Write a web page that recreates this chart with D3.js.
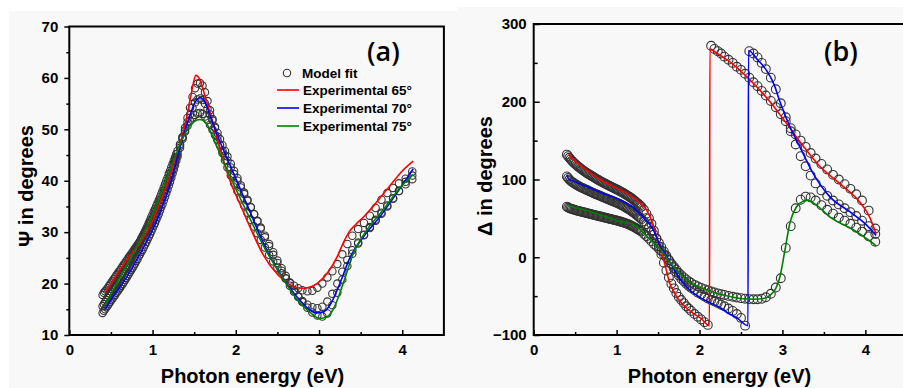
<!DOCTYPE html>
<html lang="en">
<head>
<meta charset="UTF-8">
<title>psi and delta fits</title>
<script src="https://cdn.jsdelivr.net/npm/d3@7/dist/d3.min.js"></script>
<style>
	body { margin: 0; background: #fff; }
	svg text { font-family: "Liberation Sans", Arial, sans-serif; font-weight: bold; fill: #000; }
</style>
</head>
<body>
<div id="chart"></div>
<script>
// photon energies of the model fit points (eV), denser in the infrared
let fitE = [
	0.400, 0.415, 0.430, 0.445, 0.460, 0.475, 0.490, 0.505, 0.520, 0.535,
	0.550, 0.565, 0.580, 0.595, 0.610, 0.625, 0.640, 0.655, 0.670, 0.685,
	0.700, 0.715, 0.730, 0.745, 0.760, 0.775, 0.790, 0.805, 0.820, 0.835,
	0.850, 0.865, 0.880, 0.895, 0.910, 0.925, 0.940, 0.955, 0.970, 0.985,
	1.000, 1.015, 1.030, 1.045, 1.060, 1.075, 1.090, 1.105, 1.120, 1.135,
	1.150, 1.165, 1.180, 1.195, 1.210, 1.225, 1.240, 1.255, 1.270, 1.285,
	1.30, 1.33, 1.36, 1.39, 1.42, 1.45, 1.48, 1.51, 1.54, 1.57,
	1.60, 1.63, 1.66, 1.69, 1.72, 1.75, 1.78, 1.81, 1.84, 1.87,
	1.90, 1.94, 1.98, 2.02, 2.06, 2.10, 2.14, 2.18, 2.22, 2.26,
	2.30, 2.35, 2.40, 2.45, 2.50, 2.55, 2.60, 2.65, 2.70, 2.75,
	2.80, 2.86, 2.92, 2.98, 3.04, 3.10, 3.16, 3.22, 3.28, 3.34,
	3.40, 3.47, 3.54, 3.61, 3.68, 3.75, 3.82, 3.89, 3.96, 4.04, 4.12
];

// model fit, Psi (deg)
let psiFit65 = [
	17.8, 18.2, 18.5, 18.8, 19.1, 19.5, 19.8, 20.2, 20.5, 20.9,
	21.2, 21.6, 21.9, 22.3, 22.6, 23.0, 23.3, 23.7, 24.0, 24.4,
	24.7, 25.1, 25.4, 25.8, 26.1, 26.5, 26.8, 27.2, 27.5, 27.9,
	28.3, 28.7, 29.1, 29.5, 29.9, 30.3, 30.7, 31.2, 31.6, 32.1,
	32.6, 33.1, 33.6, 34.2, 34.7, 35.3, 35.8, 36.4, 37.0, 37.6,
	38.2, 38.9, 39.5, 40.2, 40.8, 41.5, 42.2, 43.0, 43.7, 44.5,
	45.2, 46.8, 48.5, 50.3, 52.2, 54.2, 56.3, 58.0, 58.9, 59.0,
	58.5, 57.2, 55.5, 53.7, 52.0, 50.3, 48.6, 47.0, 45.4, 44.0,
	42.6, 41.0, 39.5, 38.0, 36.6, 35.2, 33.8, 32.4, 31.1, 29.8,
	28.5, 27.0, 25.6, 24.3, 23.1, 22.0, 21.0, 20.2, 19.6, 19.1,
	18.7, 18.5, 18.6, 19.2, 20.0, 21.2, 22.4, 23.8, 25.7, 27.7,
	29.3, 30.6, 31.8, 33.2, 34.7, 36.3, 37.6, 38.6, 39.5, 40.4, 41.0
];
let psiFit70 = [
	14.3, 14.7, 15.0, 15.4, 15.7, 16.1, 16.4, 16.8, 17.1, 17.5,
	17.8, 18.2, 18.5, 18.9, 19.2, 19.6, 19.9, 20.3, 20.7, 21.1,
	21.5, 21.9, 22.3, 22.7, 23.1, 23.5, 23.9, 24.4, 24.8, 25.3,
	25.7, 26.2, 26.6, 27.1, 27.6, 28.1, 28.6, 29.1, 29.6, 30.2,
	30.7, 31.3, 31.8, 32.4, 33.0, 33.6, 34.2, 34.9, 35.5, 36.2,
	36.9, 37.6, 38.3, 39.1, 39.8, 40.6, 41.4, 42.2, 43.0, 43.9,
	44.7, 46.4, 48.1, 49.8, 51.4, 52.9, 54.2, 55.2, 55.8, 56.0,
	55.7, 55.0, 54.0, 52.9, 51.7, 50.5, 49.3, 48.1, 46.9, 45.8,
	44.7, 43.3, 41.9, 40.5, 39.1, 37.7, 36.3, 34.9, 33.5, 32.1,
	30.7, 29.0, 27.3, 25.6, 24.0, 22.5, 21.0, 19.6, 18.4, 17.4,
	16.6, 15.9, 15.4, 15.2, 15.5, 16.5, 18.0, 20.0, 22.3, 24.6,
	26.5, 28.0, 29.4, 30.8, 32.2, 33.6, 35.0, 36.5, 38.0, 39.8, 41.8
];
let psiFit75 = [
	15.6, 16.0, 16.4, 16.8, 17.2, 17.6, 18.0, 18.4, 18.8, 19.2,
	19.6, 20.0, 20.4, 20.8, 21.2, 21.6, 22.0, 22.4, 22.8, 23.2,
	23.6, 24.1, 24.5, 25.0, 25.4, 25.9, 26.3, 26.8, 27.2, 27.7,
	28.2, 28.7, 29.2, 29.7, 30.2, 30.7, 31.2, 31.8, 32.3, 32.9,
	33.4, 34.0, 34.5, 35.1, 35.6, 36.2, 36.8, 37.4, 38.0, 38.7,
	39.3, 40.0, 40.6, 41.3, 41.9, 42.6, 43.2, 43.9, 44.5, 45.2,
	45.8, 47.1, 48.4, 49.6, 50.7, 51.6, 52.3, 52.8, 53.1, 53.2,
	53.0, 52.5, 51.8, 50.9, 49.9, 48.9, 47.9, 46.9, 45.9, 44.9,
	43.9, 42.6, 41.3, 40.0, 38.7, 37.4, 36.1, 34.8, 33.5, 32.2,
	30.9, 29.3, 27.7, 26.1, 24.5, 23.0, 21.5, 20.1, 18.7, 17.5,
	16.4, 15.3, 14.4, 13.8, 13.6, 14.2, 15.8, 18.2, 20.8, 23.4,
	25.8, 27.8, 29.5, 31.0, 32.4, 33.8, 35.2, 36.6, 38.0, 39.3, 40.3
];

// model fit, Delta (deg)
let delFit65 = [
	132, 130, 128, 126, 124, 122.5, 121, 119.5, 118, 116.8,
	115.5, 114.3, 113, 111.8, 110.5, 109.5, 108.5, 107.5, 106.5, 105.5,
	104.5, 103.5, 102.5, 101.5, 100.5, 99.6, 98.7, 97.8, 97, 96.2,
	95.3, 94.5, 93.6, 92.8, 92, 91.2, 90.4, 89.6, 88.8, 88,
	87.2, 86.4, 85.5, 84.7, 83.8, 82.9, 82, 81, 80, 79,
	78, 76.9, 75.8, 74.6, 73.3, 71.9, 70.5, 69.3, 68, 66.5,
	65, 61, 56, 50, 43, 34, 24, 14, 4, -7,
	-17, -26, -34, -40, -46, -51, -55, -59, -63, -66,
	-69, -73, -76.5, -80, -83.5, -87, 272, 268, 265, 262,
	258, 254, 250, 245, 241, 236, 231, 225, 220, 214,
	208, 201, 193, 184, 175, 166, 158, 150, 142, 134,
	127, 120, 113, 106, 100, 94, 88, 81, 73, 60, 37
];
let delFit70 = [
	104, 102, 100, 98.5, 97, 96, 95, 94, 93, 92,
	91, 90.2, 89.5, 88.8, 88, 87.2, 86.5, 85.8, 85, 84.2,
	83.5, 82.8, 82, 81.3, 80.7, 80, 79.4, 78.7, 78, 77.3,
	76.7, 76, 75.4, 74.7, 74, 73.3, 72.7, 72, 71.3, 70.6,
	70, 69.3, 68.5, 67.8, 67, 66.2, 65.3, 64.4, 63.5, 62.5,
	61.5, 60.4, 59.3, 58.2, 57, 55.8, 54.5, 53.2, 51.8, 50.4,
	49, 46, 42.5, 38.5, 34, 29, 24, 18.5, 13, 7.5,
	2, -3.5, -9, -14, -19, -23.5, -27.5, -31, -34, -37,
	-39.5, -42.5, -45.5, -48, -50.5, -53, -55, -57, -59, -61,
	-63, -66, -69, -73, -78, -88, 265, 262, 257, 250,
	242, 231, 216, 198, 180, 162, 145, 130, 117, 105,
	95, 86, 79, 73, 68, 63, 58, 53, 47, 40, 30
];
let delFit75 = [
	65, 64, 63, 62.5, 62, 61.5, 61, 60.5, 60, 59.6,
	59.2, 58.8, 58.4, 58, 57.6, 57.2, 56.8, 56.4, 56, 55.6,
	55.2, 54.8, 54.4, 54, 53.6, 53.2, 52.8, 52.4, 52, 51.6,
	51.2, 50.8, 50.4, 50, 49.6, 49.2, 48.8, 48.4, 48, 47.6,
	47.2, 46.8, 46.3, 45.9, 45.4, 44.9, 44.4, 43.9, 43.3, 42.7,
	42, 41.3, 40.5, 39.7, 38.8, 37.9, 37, 36, 35, 34,
	33, 30, 27, 24, 20.5, 17, 14, 11, 8, 4,
	0, -4, -8, -12, -16, -20, -23, -26, -28.5, -31,
	-33, -35.5, -37.5, -39.5, -41, -42.5, -44, -45.2, -46.4, -47.5,
	-48.5, -49.7, -50.8, -51.8, -52.6, -53.3, -53.8, -54, -54, -53.3,
	-51.5, -47, -39, -27, 12, 40, 63, 74, 78, 77,
	73, 67, 61, 56, 51, 47, 43, 38, 33, 27, 20
];

// experimental curves [eV, deg]
let psiExp65 = [[0.43,18.3],[0.50,19.9],[0.57,21.8],[0.70,24.8],[0.85,27.9],[0.97,31.2],[1.10,36.2],[1.20,40.5],[1.30,45.5],[1.40,51.5],[1.46,56.5],[1.52,60.5],[1.57,59.6],[1.63,56.5],[1.74,50.5],[1.85,44.0],[1.95,39.2],[2.05,35.5],[2.17,31.0],[2.33,25.6],[2.50,21.8],[2.65,19.8],[2.80,19.1],[2.92,19.5],[3.02,20.6],[3.12,22.5],[3.22,25.3],[3.30,28.2],[3.36,30.0],[3.44,31.5],[3.55,33.2],[3.69,35.8],[3.85,39.0],[4.00,41.9],[4.13,43.8]];
let psiExp70 = [[0.43,15.0],[0.55,18.0],[0.69,21.3],[0.89,27.0],[1.09,33.7],[1.21,39.3],[1.33,46.5],[1.45,52.8],[1.52,55.5],[1.57,56.2],[1.63,55.3],[1.70,52.3],[1.79,48.4],[1.95,42.3],[2.17,34.0],[2.37,26.5],[2.53,22.0],[2.73,17.5],[2.88,15.0],[2.97,14.3],[3.05,14.5],[3.13,15.8],[3.25,20.0],[3.37,25.0],[3.53,29.0],[3.73,33.0],[3.93,37.5],[4.13,42.3]];
let psiExp75 = [[0.43,15.8],[0.50,18.0],[0.69,23.5],[0.89,29.6],[1.09,37.0],[1.25,43.8],[1.40,49.5],[1.50,51.5],[1.57,51.9],[1.64,51.3],[1.75,47.5],[1.89,42.3],[2.13,34.0],[2.35,26.8],[2.53,22.0],[2.73,17.0],[2.90,14.3],[3.01,13.2],[3.10,13.6],[3.17,15.0],[3.29,20.0],[3.41,25.8],[3.57,30.3],[3.77,34.3],[3.97,38.6],[4.13,41.2]];

let delExp65 = [[0.42,132],[0.50,124],[0.64,112],[0.80,100],[1.04,87],[1.20,77],[1.28,70],[1.36,61],[1.44,42],[1.48,27],[1.53,12],[1.58,-8],[1.64,-33],[1.70,-46],[1.76,-56],[1.84,-65],[1.92,-72],[2.02,-79],[2.12,-88],[2.125,268],[2.20,263],[2.37,251],[2.61,228],[2.85,200],[3.05,172],[3.25,143],[3.45,117],[3.69,95],[3.94,70],[4.05,52],[4.13,30]];
let delExp70 = [[0.40,106],[0.42,101],[0.50,97],[0.64,91],[0.84,82],[1.04,74],[1.20,64],[1.28,56],[1.36,47],[1.44,36],[1.53,13],[1.60,2],[1.68,-13],[1.77,-29],[1.90,-44],[2.01,-52],[2.12,-58],[2.25,-65],[2.33,-71],[2.45,-78],[2.585,-88],[2.59,266],[2.70,254],[2.81,240],[2.90,222],[2.97,200],[3.09,168],[3.21,142],[3.37,108],[3.57,78],[3.82,58],[4.00,43],[4.13,28]];
let delExp75 = [[0.42,67],[0.50,64],[0.64,60],[0.84,53],[1.04,46],[1.20,42],[1.28,36],[1.40,23],[1.53,10],[1.64,-6],[1.76,-21],[1.90,-33],[2.09,-42],[2.30,-49],[2.49,-53],[2.65,-54],[2.77,-53],[2.85,-49],[2.92,-40],[2.97,-25],[3.03,9],[3.09,44],[3.17,65],[3.25,72],[3.30,73.5],[3.41,67],[3.57,52],[3.86,35],[4.13,15]];

let eTicks = [0, 1, 2, 3, 4],
	eMinor = [0.5, 1.5, 2.5, 3.5],
	psiTicks = [10, 20, 30, 40, 50, 60, 70],
	psiMinor = [15, 25, 35, 45, 55, 65],
	delTicks = [-100, 0, 100, 200, 300],
	delMinor = [-50, 50, 150, 250];

let legendNames = ['Experimental 65°', 'Experimental 70°', 'Experimental 75°'];
let colors = ['#ff0000', '#0000ff', '#008000'];

let width = 903, height = 388;

let svg = d3.select('#chart').append('svg')
	.attr('width', width)
	.attr('height', height);

function panel(p) {
	let g = svg.append('g');
	g.append('rect').attr('x', p.bg[0]).attr('y', p.bg[1])
		.attr('width', p.bg[2]).attr('height', p.bg[3]).attr('fill', '#f8f8f8');

	let x = d3.scaleLinear().domain([0, 4.5]).range(p.xr);
	let y = d3.scaleLinear().domain(p.yd).range(p.yr);

	// fit circles
	p.fits.forEach(vals => {
		g.append('g').selectAll('circle').data(vals).enter().append('circle')
			.attr('cx', (d, i) => x(fitE[i]))
			.attr('cy', d => y(d))
			.attr('r', p.r)
			.attr('fill', 'none')
			.attr('stroke', '#333')
			.attr('stroke-width', 1.1);
	});

	// experimental lines
	let line = d3.line().x(d => x(d[0])).y(d => y(d[1])).curve(d3.curveMonotoneX);
	p.lines.forEach((pts, i) => {
		g.append('path').datum(pts)
			.attr('d', line)
			.attr('fill', 'none')
			.attr('stroke', colors[i])
			.attr('stroke-width', 1.6);
	});

	// axes
	let yt = p.yIn ? -6 : 5, ym = p.yIn ? -4 : 3;
	let xAx = g.append('g').attr('transform', `translate(0,${p.yr[0]})`)
		.call(d3.axisBottom(x).tickValues(eTicks).tickSize(-5).tickPadding(9).tickFormat(d3.format('d')));
	let xMin = g.append('g').attr('transform', `translate(0,${p.yr[0]})`)
		.call(d3.axisBottom(x).tickValues(eMinor).tickSize(-3).tickFormat(''));
	let yAx = g.append('g').attr('transform', `translate(${p.xr[0]},0)`)
		.call(d3.axisLeft(y).tickValues(p.ticks).tickSize(yt).tickPadding(p.yIn ? 7 : 6).tickFormat(d3.format('d')));
	let yMin = g.append('g').attr('transform', `translate(${p.xr[0]},0)`)
		.call(d3.axisLeft(y).tickValues(p.minor).tickSize(ym).tickFormat(''));
	[xAx, xMin, yAx, yMin].forEach(a => {
		a.select('.domain').remove();
		a.selectAll('line').attr('stroke', '#000').attr('stroke-width', 1.5);
		a.selectAll('text').attr('font-size', '15px')
			.style('font-family', '"Liberation Sans", Arial, sans-serif').style('font-weight', 'bold');
	});

	g.append('rect')
		.attr('x', p.xr[0]).attr('y', p.yr[1])
		.attr('width', p.xr[1] - p.xr[0]).attr('height', p.yr[0] - p.yr[1])
		.attr('fill', 'none').attr('stroke', '#000').attr('stroke-width', 2);

	g.append('text').attr('x', p.xt[0]).attr('y', p.xt[1])
		.attr('text-anchor', 'middle').attr('font-size', '20px')
		.text('Photon energy (eV)');
	g.append('text')
		.attr('transform', `translate(${p.yt[0]},${p.yt[1]}) rotate(-90)`)
		.attr('dy', '0.35em')
		.attr('text-anchor', 'middle').attr('font-size', '20px')
		.text(p.ytitle);
	g.append('text').attr('x', p.lab[0]).attr('y', p.lab[1])
		.style('font-family', '"Open Sans", sans-serif').style('font-weight', 600)
		.attr('font-size', '27px')
		.text(p.label);
	return g;
}

let ga = panel({
	bg: [9, 11, 448, 377],
	xr: [69.3, 443.9], yd: [10, 70], yr: [335, 26.5],
	ticks: psiTicks, minor: psiMinor, yIn: false, r: 3.7,
	fits: [psiFit65, psiFit70, psiFit75],
	lines: [psiExp65, psiExp70, psiExp75],
	xt: [252.5, 383], yt: [25.5, 186], ytitle: 'Ψ in degrees',
	lab: [367, 61], label: '(a)'
});

panel({
	bg: [457, 7, 446, 381],
	xr: [533.7, 906.8], yd: [-100, 300], yr: [335, 24],
	ticks: delTicks, minor: delMinor, yIn: true, r: 4.4,
	fits: [delFit65, delFit70, delFit75],
	lines: [delExp65, delExp70, delExp75],
	xt: [719.5, 383], yt: [485.3, 176], ytitle: 'Δ in degrees',
	lab: [824, 61], label: '(b)'
});

// legend of panel (a)
let lg = ga.append('g').attr('font-size', '13.5px');
lg.append('circle').attr('cx', 287).attr('cy', 73).attr('r', 3.7)
	.attr('fill', 'none').attr('stroke', '#333').attr('stroke-width', 1.1);
lg.append('text').attr('x', 302).attr('y', 78).text('Model fit');
legendNames.forEach((name, i) => {
	let yy = 90 + i * 18;
	lg.append('line').attr('x1', 277).attr('x2', 299).attr('y1', yy).attr('y2', yy)
		.attr('stroke', colors[i]).attr('stroke-width', 1.6);
	lg.append('text').attr('x', 303).attr('y', yy + 5).text(name);
});
</script>
</body>
</html>
